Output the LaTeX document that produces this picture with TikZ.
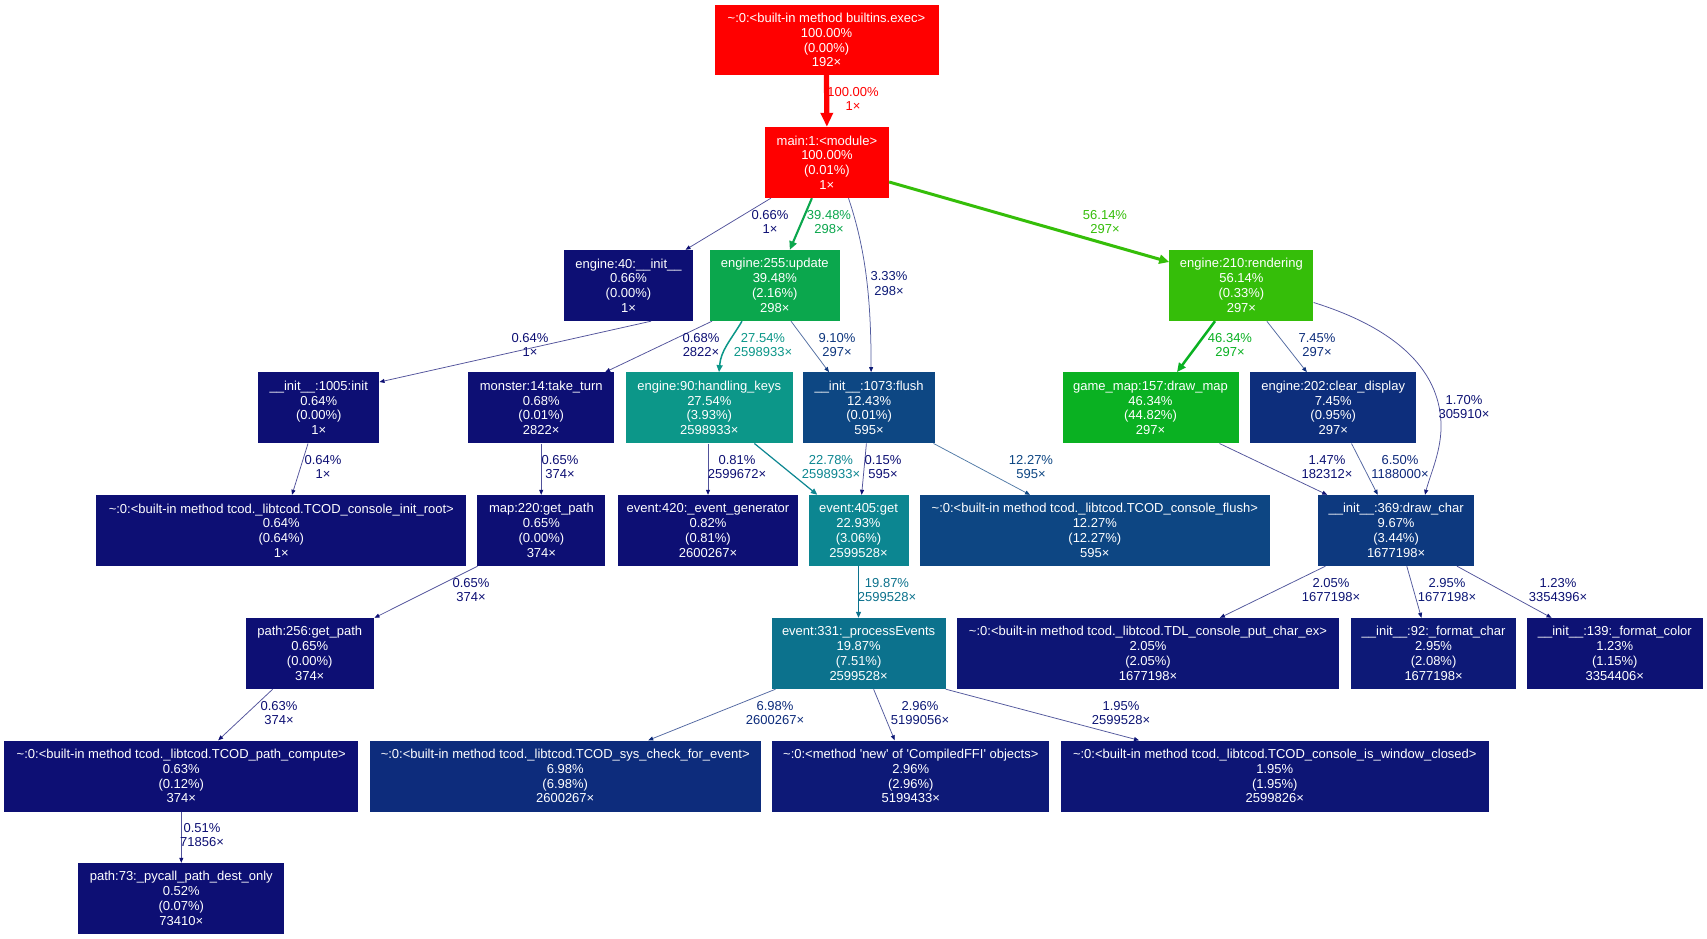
\documentclass[tikz,border=0pt]{standalone}
\usepackage{fontspec}
\setmainfont{Liberation Sans}[Ligatures=TeXOff]
\usetikzlibrary{arrows.meta}
\definecolor{cred}{RGB}{255,0,0}
\definecolor{cg56}{RGB}{53,190,9}
\definecolor{cg46}{RGB}{10,177,34}
\definecolor{cg39}{RGB}{11,167,77}
\definecolor{ct27}{RGB}{12,151,137}
\definecolor{ct23}{RGB}{12,134,145}
\definecolor{ct20}{RGB}{12,114,141}
\definecolor{cb12}{RGB}{13,70,131}
\definecolor{cb124}{RGB}{13,71,131}
\definecolor{cb10}{RGB}{13,57,127}
\definecolor{cb9}{RGB}{13,54,126}
\definecolor{cb7}{RGB}{13,46,124}
\definecolor{cb698}{RGB}{13,44,124}
\definecolor{cb65}{RGB}{13,41,123}
\definecolor{cb3}{RGB}{13,27,119}
\definecolor{cb296}{RGB}{13,25,119}
\definecolor{cb2}{RGB}{13,21,117}
\definecolor{cb17}{RGB}{13,18,116}
\definecolor{cnavy}{RGB}{13,15,116}
\begin{document}
\begin{tikzpicture}[x=1pt,y=-1pt,
  fn/.style={rectangle, inner sep=0pt, text=white, align=center, minimum height=71pt, font=\fontsize{13}{14.8}\selectfont},
  el/.style={align=center, inner sep=0pt, font=\fontsize{13}{14.8}\selectfont},
  ebig/.style={line width=5.3pt, -{Triangle[length=14pt,width=12pt]}},
  efiftysix/.style={line width=3pt, -{Triangle[length=10pt,width=9pt]}},
  efortysix/.style={line width=2.5pt, -{Triangle[length=9pt,width=8pt]}},
  ethirtynine/.style={line width=2.1pt, -{Triangle[length=8.5pt,width=7.5pt]}},
  etwentyseven/.style={line width=1.5pt, -{Triangle[length=7pt,width=6pt]}},
  etwentytwo/.style={line width=1.2pt, -{Triangle[length=6.5pt,width=5.5pt]}},
  enineteen/.style={line width=1.05pt, -{Triangle[length=6pt,width=5pt]}},
  esmall/.style={draw=#1!72!white, line width=0.75pt, -{Triangle[length=5pt,width=4pt,color=#1]}}
]
\fill[white] (0,0) rectangle (1707,939);
\useasboundingbox (0,0) rectangle (1707,939);

% nodes
\node[fn, fill=cred, minimum width=224pt, minimum height=70pt] (exec) at (826.5,40) {\textasciitilde:0:<built-in method builtins.exec>\\100.00\%\\(0.00\%)\\192×};
\node[fn, fill=cred, minimum width=124pt] (main) at (826.9,162.5) {main:1:<module>\\100.00\%\\(0.01\%)\\1×};
\node[fn, fill=cnavy, minimum width=129pt] (e40) at (628.5,285.5) {engine:40:\_\_init\_\_\\0.66\%\\(0.00\%)\\1×};
\node[fn, fill=cg39, minimum width=129.5pt] (update) at (774.8,285.5) {engine:255:update\\39.48\%\\(2.16\%)\\298×};
\node[fn, fill=cg56, minimum width=144pt] (rendering) at (1241.4,285.5) {engine:210:rendering\\56.14\%\\(0.33\%)\\297×};
\node[fn, fill=cnavy, minimum width=121pt] (init1005) at (318.8,407.8) {\_\_init\_\_:1005:init\\0.64\%\\(0.00\%)\\1×};
\node[fn, fill=cnavy, minimum width=146.4pt] (monster) at (541.2,407.8) {monster:14:take\_turn\\0.68\%\\(0.01\%)\\2822×};
\node[fn, fill=ct27, minimum width=166.5pt] (hkeys) at (709.3,407.8) {engine:90:handling\_keys\\27.54\%\\(3.93\%)\\2598933×};
\node[fn, fill=cb124, minimum width=132pt] (flush) at (869.1,407.8) {\_\_init\_\_:1073:flush\\12.43\%\\(0.01\%)\\595×};
\node[fn, fill=cg46, minimum width=176pt] (gamemap) at (1150.5,407.8) {game\_map:157:draw\_map\\46.34\%\\(44.82\%)\\297×};
\node[fn, fill=cb7, minimum width=166pt] (cleardisp) at (1333.2,407.8) {engine:202:clear\_display\\7.45\%\\(0.95\%)\\297×};
\node[fn, fill=cnavy, minimum width=370pt] (initroot) at (281.3,530.5) {\textasciitilde:0:<built-in method tcod.\_libtcod.TCOD\_console\_init\_root>\\0.64\%\\(0.64\%)\\1×};
\node[fn, fill=cnavy, minimum width=128pt] (map220) at (541.4,530.5) {map:220:get\_path\\0.65\%\\(0.00\%)\\374×};
\node[fn, fill=cnavy, minimum width=180pt] (evgen) at (708,530.5) {event:420:\_event\_generator\\0.82\%\\(0.81\%)\\2600267×};
\node[fn, fill=ct23, minimum width=100pt] (ev405) at (858.5,530.5) {event:405:get\\22.93\%\\(3.06\%)\\2599528×};
\node[fn, fill=cb12, minimum width=350.6pt] (conflush) at (1094.8,530.5) {\textasciitilde:0:<built-in method tcod.\_libtcod.TCOD\_console\_flush>\\12.27\%\\(12.27\%)\\595×};
\node[fn, fill=cb10, minimum width=156pt] (drawchar) at (1396.1,530.5) {\_\_init\_\_:369:draw\_char\\9.67\%\\(3.44\%)\\1677198×};
\node[fn, fill=cnavy, minimum width=127.7pt] (path256) at (309.7,653.5) {path:256:get\_path\\0.65\%\\(0.00\%)\\374×};
\node[fn, fill=ct20, minimum width=174pt] (procev) at (858.6,653.5) {event:331:\_processEvents\\19.87\%\\(7.51\%)\\2599528×};
\node[fn, fill=cb2, minimum width=382.3pt] (putchar) at (1148,653.5) {\textasciitilde:0:<built-in method tcod.\_libtcod.TDL\_console\_put\_char\_ex>\\2.05\%\\(2.05\%)\\1677198×};
\node[fn, fill=cb296, minimum width=165.5pt] (fmtchar) at (1433.6,653.5) {\_\_init\_\_:92:\_format\_char\\2.95\%\\(2.08\%)\\1677198×};
\node[fn, fill=cb17, minimum width=176pt] (fmtcolor) at (1614.8,653.5) {\_\_init\_\_:139:\_format\_color\\1.23\%\\(1.15\%)\\3354406×};
\node[fn, fill=cnavy, minimum width=353.8pt] (pathcomp) at (181.3,776) {\textasciitilde:0:<built-in method tcod.\_libtcod.TCOD\_path\_compute>\\0.63\%\\(0.12\%)\\374×};
\node[fn, fill=cb698, minimum width=391.4pt] (syscheck) at (565.2,776) {\textasciitilde:0:<built-in method tcod.\_libtcod.TCOD\_sys\_check\_for\_event>\\6.98\%\\(6.98\%)\\2600267×};
\node[fn, fill=cb296, minimum width=277pt] (ffi) at (910.8,776) {\textasciitilde:0:<method 'new' of 'CompiledFFI' objects>\\2.96\%\\(2.96\%)\\5199433×};
\node[fn, fill=cb2, minimum width=427.7pt] (winclosed) at (1274.8,776) {\textasciitilde:0:<built-in method tcod.\_libtcod.TCOD\_console\_is\_window\_closed>\\1.95\%\\(1.95\%)\\2599826×};
\node[fn, fill=cnavy, minimum width=206.2pt] (pycall) at (181.3,898.5) {path:73:\_pycall\_path\_dest\_only\\0.52\%\\(0.07\%)\\73410×};

% edges
\draw[ebig, draw=cred] (exec.south) -- (main.north);
\draw[esmall=cnavy] ([xshift=-56pt]main.south) -- ([xshift=57pt]e40.north);
\draw[ethirtynine, draw=cg39] ([xshift=-15pt]main.south) -- ([xshift=15pt]update.north);
\draw[esmall=cb3] ([xshift=21.6pt]main.south) .. controls +(17.5,52) and +(0,-72) .. ([xshift=2pt]flush.north);
\draw[efiftysix, draw=cg56] ([yshift=-19.5pt]main.east) -- ([yshift=23.5pt]rendering.west);
\draw[esmall=cnavy] ([xshift=22.5pt]e40.south) -- ([yshift=25.8pt]init1005.east);
\draw[esmall=cnavy] ([xshift=-62.8pt]update.south) -- ([xshift=64pt]monster.north);
\draw[etwentyseven, draw=ct27] ([xshift=-32.8pt]update.south) .. controls +(-12,20) and +(2,-22) .. ([xshift=9.7pt]hkeys.north);
\draw[esmall=cb9] ([xshift=16.2pt]update.south) -- ([xshift=-40.1pt]flush.north);
\draw[esmall=cnavy] ([xshift=-10.8pt]init1005.south) -- ([xshift=10.7pt]initroot.north);
\draw[esmall=cnavy] (monster.south) -- (monster.south |- map220.north);
\draw[esmall=cnavy] (hkeys.south -| evgen.north) -- (evgen.north);
\draw[etwentytwo, draw=ct23] ([xshift=45.1pt]hkeys.south) -- ([xshift=-41.2pt]ev405.north);
\draw[esmall=cnavy] ([xshift=-2.7pt]flush.south) -- ([xshift=3.1pt]ev405.north);
\draw[esmall=cb12] ([xshift=64.5pt]flush.south) -- ([xshift=-64.8pt]conflush.north);
\draw[efortysix, draw=cg46] ([xshift=-26.4pt]rendering.south) -- ([xshift=26.5pt]gamemap.north);
\draw[esmall=cb7] ([xshift=25.4pt]rendering.south) -- ([xshift=-26.4pt]cleardisp.north);
\draw[esmall=cb17] ([yshift=-17pt]rendering.east) .. controls +(80,25) and +(-2,-55) .. (1441,423) .. controls +(1,27) and +(5,-20) .. ([xshift=28.9pt]drawchar.north);
\draw[esmall=cb17] ([xshift=69pt]gamemap.south) -- ([xshift=-68.9pt]drawchar.north);
\draw[esmall=cb65] ([xshift=18.3pt]cleardisp.south) -- ([xshift=-18.4pt]drawchar.north);
\draw[enineteen, draw=ct20] (ev405.south) -- (ev405.south |- procev.north);
\draw[esmall=cnavy] ([xshift=-63.9pt]map220.south) -- ([xshift=64.8pt]path256.north);
\draw[esmall=cb2] ([xshift=-70.7pt]drawchar.south) -- ([xshift=71.9pt]putchar.north);
\draw[esmall=cb296] ([xshift=10.7pt]drawchar.south) -- ([xshift=-12.2pt]fmtchar.north);
\draw[esmall=cb17] ([xshift=60.9pt]drawchar.south) -- ([xshift=-63.3pt]fmtcolor.north);
\draw[esmall=cnavy] ([xshift=-37pt]path256.south) -- ([xshift=36.9pt]pathcomp.north);
\draw[esmall=cnavy] (pathcomp.south) -- (pycall.north);
\draw[esmall=cb698] ([xshift=-83.1pt]procev.south) -- ([xshift=83pt]syscheck.north);
\draw[esmall=cb296] ([xshift=15pt]procev.south) -- ([xshift=-16.1pt]ffi.north);
\draw[esmall=cb2] (procev.south east) -- ([xshift=-135.8pt]winclosed.north);

% edge labels
\node[el, text=cred] (l1) at (853,99) {100.00\%\\1×};
\node[el, text=cnavy] (l2) at (770,222) {0.66\%\\1×};
\node[el, text=cg39] (l3) at (829,222) {39.48\%\\298×};
\node[el, text=cb3] (l4) at (889,283.5) {3.33\%\\298×};
\node[el, text=cg56] (l5) at (1105,222) {56.14\%\\297×};
\node[el, text=cnavy] (l6) at (530,345) {0.64\%\\1×};
\node[el, text=cnavy] (l7) at (701,345) {0.68\%\\2822×};
\node[el, text=ct27] (l8) at (763,345) {27.54\%\\2598933×};
\node[el, text=cb9] (l9) at (837,345) {9.10\%\\297×};
\node[el, text=cg46] (l10) at (1230,345) {46.34\%\\297×};
\node[el, text=cb7] (l11) at (1317,345) {7.45\%\\297×};
\node[el, text=cb17] (l12) at (1464,407) {1.70\%\\305910×};
\node[el, text=cnavy] (l13) at (323,467) {0.64\%\\1×};
\node[el, text=cnavy] (l14) at (560,467) {0.65\%\\374×};
\node[el, text=cnavy] (l15) at (737,467) {0.81\%\\2599672×};
\node[el, text=ct23] (l16) at (831,467) {22.78\%\\2598933×};
\node[el, text=cnavy] (l17) at (883,467) {0.15\%\\595×};
\node[el, text=cb12] (l18) at (1031,467) {12.27\%\\595×};
\node[el, text=cb17] (l19) at (1327,467) {1.47\%\\182312×};
\node[el, text=cb65] (l20) at (1400,467) {6.50\%\\1188000×};
\node[el, text=cnavy] (l21) at (471,590) {0.65\%\\374×};
\node[el, text=ct20] (l22) at (887,590) {19.87\%\\2599528×};
\node[el, text=cb2] (l23) at (1331,590) {2.05\%\\1677198×};
\node[el, text=cb296] (l24) at (1447,590) {2.95\%\\1677198×};
\node[el, text=cb17] (l25) at (1558,590) {1.23\%\\3354396×};
\node[el, text=cnavy] (l26) at (279,713) {0.63\%\\374×};
\node[el, text=cb698] (l27) at (775,713) {6.98\%\\2600267×};
\node[el, text=cb296] (l28) at (920,713) {2.96\%\\5199056×};
\node[el, text=cb2] (l29) at (1121,713) {1.95\%\\2599528×};
\node[el, text=cnavy] (l30) at (202,835) {0.51\%\\71856×};
\end{tikzpicture}
\end{document}
